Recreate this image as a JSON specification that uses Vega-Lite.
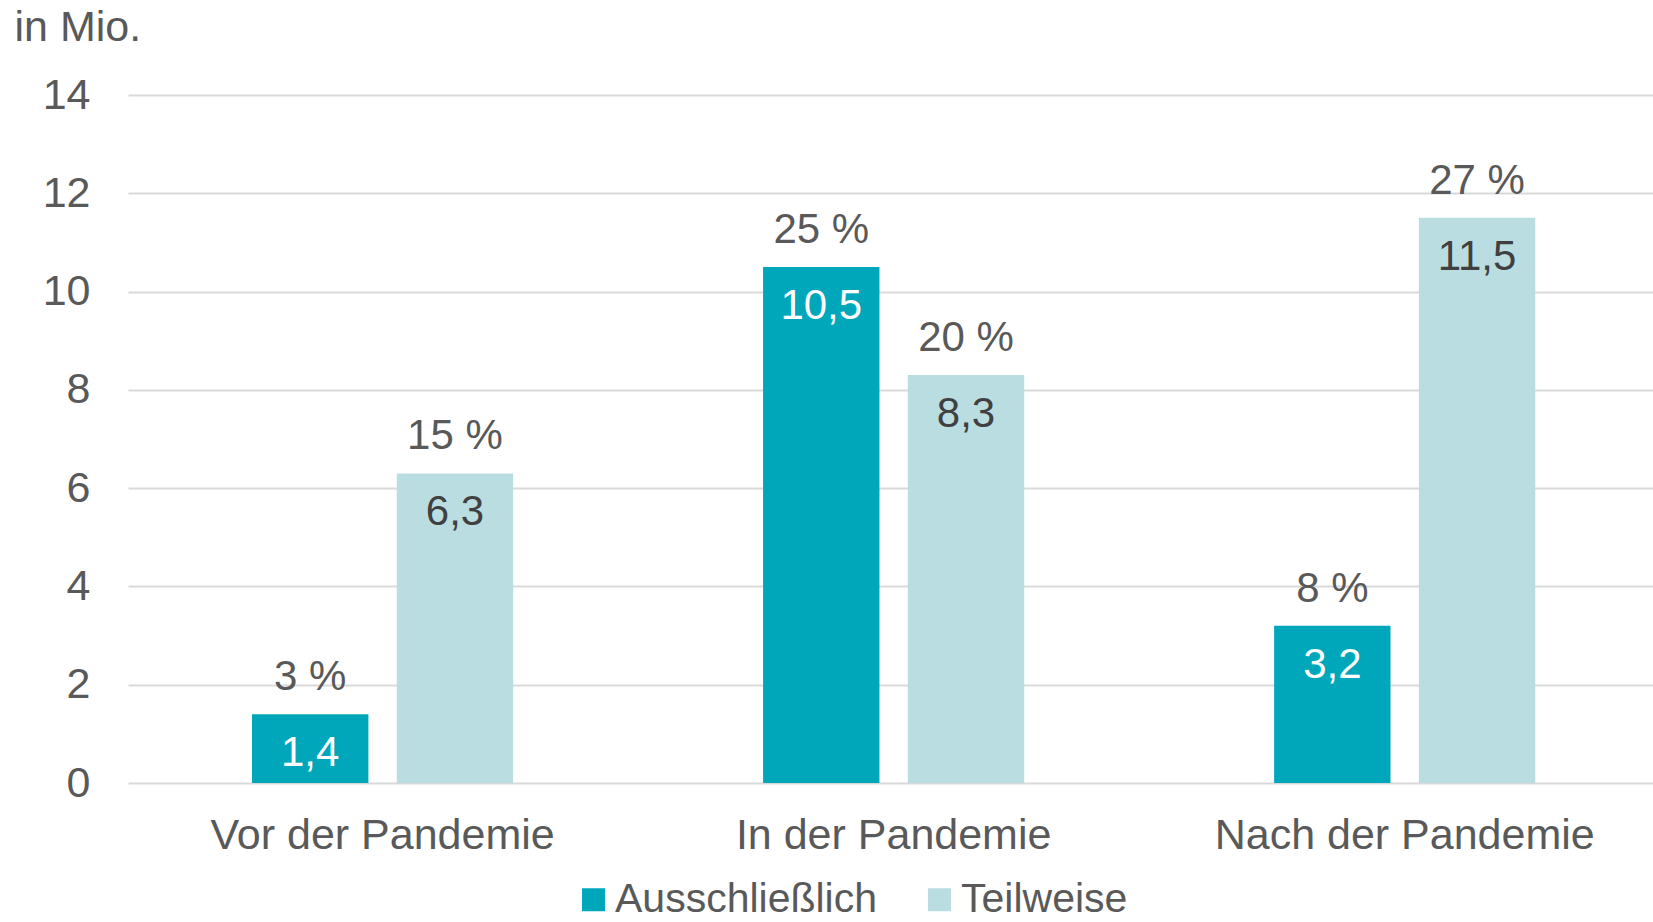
{
  "$schema": "https://vega.github.io/schema/vega-lite/v6.json",
  "autosize": {"type": "none"},
  "width": 1525,
  "height": 688,
  "padding": {"left": 128, "top": 95, "right": 0, "bottom": 139},
  "background": "white",
  "config": {
    "view": {"stroke": null},
    "font": "Liberation Sans",
    "locale": {"number": {"decimal": ",", "thousands": ".", "grouping": [3], "currency": ["", " €"]}}
  },
  "data": {
    "values": [
      {"phase": "Vor der Pandemie", "type": "Ausschließlich", "value": 1.4, "pct": "3 %"},
      {"phase": "Vor der Pandemie", "type": "Teilweise", "value": 6.3, "pct": "15 %"},
      {"phase": "In der Pandemie", "type": "Ausschließlich", "value": 10.5, "pct": "25 %"},
      {"phase": "In der Pandemie", "type": "Teilweise", "value": 8.3, "pct": "20 %"},
      {"phase": "Nach der Pandemie", "type": "Ausschließlich", "value": 3.2, "pct": "8 %"},
      {"phase": "Nach der Pandemie", "type": "Teilweise", "value": 11.5, "pct": "27 %"}
    ]
  },
  "encoding": {
    "x": {
      "field": "phase", "type": "nominal", "sort": null,
      "scale": {"paddingInner": 0.489, "paddingOuter": 0.2365, "align": 0.513},
      "axis": {"title": null, "labelAngle": 0, "labelFontSize": 43, "labelColor": "#595959", "labelPadding": 31, "labelLimit": 800, "ticks": false, "domain": false, "labelFont": "Liberation Sans"}
    },
    "xOffset": {
      "field": "type", "type": "nominal", "sort": ["Ausschließlich", "Teilweise"],
      "scale": {"paddingInner": 0.196, "paddingOuter": 0}
    },
    "y": {
      "field": "value", "type": "quantitative",
      "scale": {"domain": [0, 14], "nice": false},
      "axis": {
        "values": [0, 2, 4, 6, 8, 10, 12, 14], "format": "d",
        "title": "in Mio.", "titleAngle": 0, "titleAlign": "left", "titleBaseline": "alphabetic",
        "titleX": -114, "titleY": -55, "titleFontSize": 43, "titleFontWeight": "normal", "titleColor": "#595959", "titleFont": "Liberation Sans",
        "labelFontSize": 43, "labelColor": "#595959", "labelPadding": 38, "labelFont": "Liberation Sans",
        "ticks": false, "domain": false,
        "gridColor": "#D9D9D9", "gridWidth": 2
      }
    }
  },
  "layer": [
    {
      "mark": {"type": "bar"},
      "encoding": {
        "color": {
          "field": "type", "type": "nominal",
          "scale": {"domain": ["Ausschließlich", "Teilweise"], "range": ["#00A7BA", "#BADDE2"]},
          "legend": {
            "title": null, "orient": "none", "direction": "horizontal",
            "legendX": 445, "legendY": 784,
            "symbolType": "square", "symbolSize": 529, "symbolStrokeWidth": 0,
            "labelFontSize": 41, "labelColor": "#595959", "labelFont": "Liberation Sans",
            "labelOffset": 1, "columnPadding": 41, "labelLimit": 500
          }
        }
      }
    },
    {
      "mark": {"type": "text", "baseline": "middle", "dy": 39, "fontSize": 42, "font": "Liberation Sans"},
      "encoding": {
        "text": {"field": "value", "type": "quantitative", "format": ".1f"},
        "color": {"condition": {"test": "datum.type === 'Ausschließlich'", "value": "white"}, "value": "#404040"}
      }
    },
    {
      "mark": {"type": "text", "baseline": "middle", "dy": -37, "fontSize": 42, "font": "Liberation Sans", "color": "#595959"},
      "encoding": {
        "text": {"field": "pct", "type": "nominal"}
      }
    }
  ]
}
